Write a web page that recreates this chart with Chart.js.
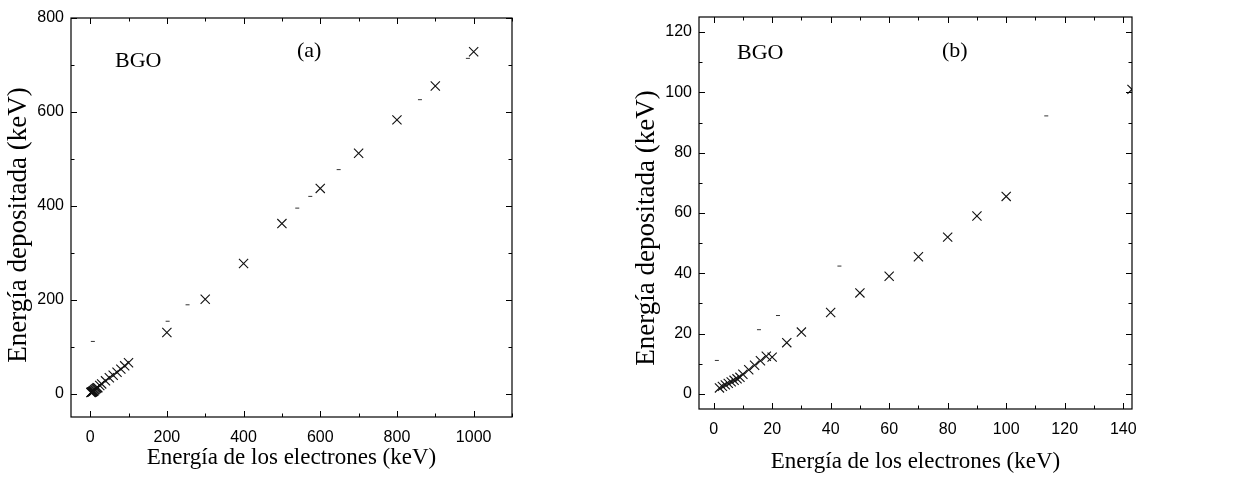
<!DOCTYPE html>
<html>
<head>
<meta charset="utf-8">
<script src="https://cdn.jsdelivr.net/npm/chart.js@4.4.1/dist/chart.umd.min.js"></script>
<style>
  html, body { margin: 0; padding: 0; background: #fff; }
  #wrap { position: relative; width: 1233px; height: 488px; }
  #ca { position: absolute; left: 0; top: 0; }
  #cb { position: absolute; left: 620px; top: 0; }
</style>
</head>
<body>
<div id="wrap">
  <canvas id="ca" width="620" height="488"></canvas>
  <canvas id="cb" width="613" height="488"></canvas>
</div>
<script>
// ---------- Data: panel (a) ----------
const energyA = [2, 3, 4, 5, 6, 7, 8, 9, 10, 12, 14, 16, 18, 20, 25, 30, 40, 50, 60, 70, 80, 90, 100,
                 200, 300, 400, 500, 600, 700, 800, 900, 1000];
const depositA = [2, 2.5, 3, 3.5, 4, 4.5, 5, 5.5, 6.5, 8, 9.5, 11, 12.5, 12.5, 17, 20.5, 27, 33.5, 39, 45.5, 52, 59, 65.5,
                  130, 201, 277, 362, 437, 512, 583, 655, 728];
const strayXA = [7, 202, 254, 540, 574, 648, 860, 985];
const strayYA = [111, 154, 189, 395, 420, 477, 626, 714];
const xTicksA = [0, 200, 400, 600, 800, 1000];
const yTicksA = [0, 200, 400, 600, 800];

// ---------- Data: panel (b) ----------
const energyB = [2, 3, 4, 5, 6, 7, 8, 9, 10, 12, 14, 16, 18, 20, 25, 30, 40, 50, 60, 70, 80, 90, 100, 143];
const depositB = [2, 2.5, 3, 3.5, 4, 4.5, 5, 5.5, 6.5, 8, 9.5, 11, 12.5, 12.2, 17, 20.5, 27, 33.5, 39, 45.5, 52, 59, 65.5, 101];
const strayXB = [1.1, 15.5, 22, 43, 113.7];
const strayYB = [11.1, 21.3, 26, 42.4, 92.2];
const xTicksB = [0, 20, 40, 60, 80, 100, 120, 140];
const yTicksB = [0, 20, 40, 60, 80, 100, 120];

const xTitle = 'Energía de los electrones (keV)';
const yTitle = 'Energía depositada (keV)';

const SANS = '"Liberation Sans", Arial, sans-serif';
const SERIF = '"Liberation Serif", "Times New Roman", serif';

function pts(xs, ys) { return xs.map((x, i) => ({ x: x, y: ys[i] })); }

// Inward ticks on all four sides + frame (via the chart's own scales), plus panel text
const frameTicks = {
  id: 'frameTicks',
  afterDraw(chart, args, opts) {
    const ctx = chart.ctx;
    const a = chart.chartArea;
    const xs = chart.scales.x, ys = chart.scales.y;
    ctx.save();
    ctx.strokeStyle = '#000';
    ctx.lineWidth = 1.2;
    ctx.strokeRect(a.left, a.top, a.right - a.left, a.bottom - a.top);
    ctx.lineWidth = 1;
    ctx.beginPath();
    const major = 6, minor = 3.5;
    const xm = opts.xMinor, ym = opts.yMinor;
    for (let v = Math.ceil(xs.min / xm) * xm; v <= xs.max; v += xm) {
      const px = Math.round(xs.getPixelForValue(v)) + 0.5;
      const L = opts.xMajor.includes(v) ? major : minor;
      ctx.moveTo(px, a.bottom); ctx.lineTo(px, a.bottom - L);
      ctx.moveTo(px, a.top); ctx.lineTo(px, a.top + L);
    }
    for (let v = Math.ceil(ys.min / ym) * ym; v <= ys.max; v += ym) {
      const py = Math.round(ys.getPixelForValue(v)) + 0.5;
      const L = opts.yMajor.includes(v) ? major : minor;
      ctx.moveTo(a.left, py); ctx.lineTo(a.left + L, py);
      ctx.moveTo(a.right, py); ctx.lineTo(a.right - L, py);
    }
    ctx.stroke();
    ctx.fillStyle = '#000';
    ctx.font = '22px ' + SERIF;
    ctx.textBaseline = 'middle';
    ctx.textAlign = 'left';
    ctx.fillText('BGO', opts.bgo[0], opts.bgo[1]);
    ctx.fillText(opts.label, opts.lab[0], opts.lab[1]);
    // vertical axis title
    ctx.translate(opts.yT[0], opts.yT[1]);
    ctx.rotate(-Math.PI / 2);
    ctx.textAlign = 'center';
    ctx.font = '27px ' + SERIF;
    ctx.fillText(yTitle, 0, 0);
    ctx.restore();
  }
};

function makeChart(id, cfg) {
  return new Chart(document.getElementById(id), {
    type: 'scatter',
    data: {
      datasets: [
        {
          label: 'BGO',
          data: pts(cfg.ex, cfg.ey),
          pointStyle: 'crossRot',
          pointRadius: 6.5,
          pointHoverRadius: 6.5,
          borderColor: '#111',
          backgroundColor: '#111',
          pointBorderWidth: 1.1
        },
        {
          label: 'marks',
          data: pts(cfg.sx, cfg.sy),
          pointStyle: 'line',
          pointRadius: 2,
          pointBorderWidth: 1,
          borderColor: '#333',
          backgroundColor: '#333'
        }
      ]
    },
    options: {
      responsive: false,
      animation: false,
      events: [],
      layout: { padding: { left: 0, top: cfg.padTop, right: cfg.padRight, bottom: 0 } },
      plugins: {
        legend: { display: false },
        tooltip: { enabled: false },
        frameTicks: cfg.frame
      },
      scales: {
        x: {
          type: 'linear',
          min: cfg.xMin, max: cfg.xMax,
          afterBuildTicks: s => { s.ticks = cfg.xt.map(v => ({ value: v })); },
          afterFit: s => { s.height = cfg.xAxisH; },
          grid: { display: false, drawTicks: false },
          border: { display: false },
          ticks: { color: '#000', font: { family: SANS, size: 16 }, padding: 11, maxRotation: 0, autoSkip: false,
                   callback: v => String(v) },
          title: { display: true, text: xTitle, color: '#000', font: { family: SERIF, size: 23 }, padding: { top: 0, bottom: cfg.xTitlePad } }
        },
        y: {
          type: 'linear',
          min: cfg.yMin, max: cfg.yMax,
          afterBuildTicks: s => { s.ticks = cfg.yt.map(v => ({ value: v })); },
          afterFit: s => { s.width = cfg.yAxisW; },
          grid: { display: false, drawTicks: false },
          border: { display: false },
          ticks: { color: '#000', font: { family: SANS, size: 16 }, padding: 7, autoSkip: false,
                   callback: v => String(v) },
          title: { display: false }
        }
      }
    },
    plugins: [frameTicks]
  });
}

makeChart('ca', {
  ex: energyA, ey: depositA, sx: strayXA, sy: strayYA,
  xt: xTicksA, yt: yTicksA,
  xMin: -50, xMax: 1100, yMin: -50, yMax: 800,
  padTop: 18, padRight: 108, xAxisH: 71, yAxisW: 71,
  xTitlePad: 16,
  frame: { xMinor: 100, yMinor: 100, xMajor: xTicksA, yMajor: yTicksA,
           bgo: [115, 61], label: '(a)', lab: [297, 51], yT: [19, 225] }
});

makeChart('cb', {
  ex: energyB, ey: depositB, sx: strayXB, sy: strayYB,
  xt: xTicksB, yt: yTicksB,
  xMin: -5, xMax: 143, yMin: -5, yMax: 125,
  padTop: 17, padRight: 101, xAxisH: 79, yAxisW: 79,
  xTitlePad: 12,
  frame: { xMinor: 10, yMinor: 10, xMajor: xTicksB, yMajor: yTicksB,
           bgo: [117, 53], label: '(b)', lab: [322, 51], yT: [27, 228] }
});
</script>
</body>
</html>
